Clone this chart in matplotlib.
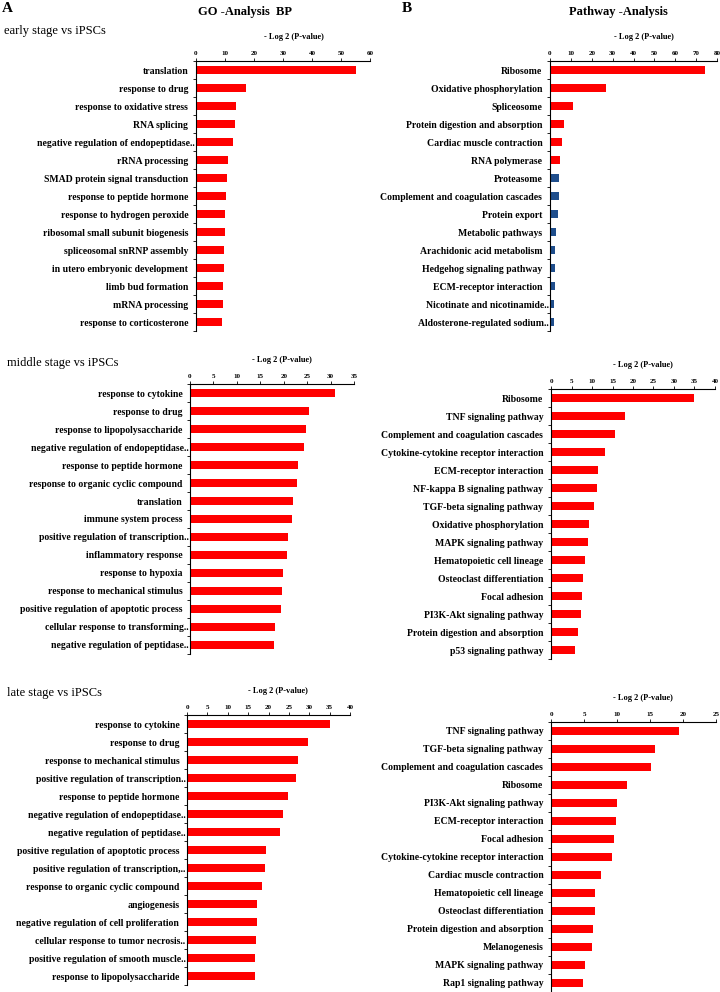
import matplotlib.pyplot as plt
import numpy as np

plt.rcParams['font.family'] = ['Liberation Serif', 'DejaVu Serif']

RED = '#ff0000'
BLUE = '#1f4e8c'

# Early stage vs iPSCs
go_early_terms = ['translation', 'response to drug', 'response to oxidative stress',
                  'RNA splicing', 'negative regulation of endopeptidase..',
                  'rRNA processing', 'SMAD protein signal transduction',
                  'response to peptide hormone', 'response to hydrogen peroxide',
                  'ribosomal small subunit biogenesis', 'spliceosomal snRNP assembly',
                  'in utero embryonic development', 'limb bud formation',
                  'mRNA processing', 'response to corticosterone']
go_early_vals = [55.2, 17.4, 13.8, 13.6, 12.9, 11.0, 10.6, 10.5, 10.1, 10.0,
                 9.8, 9.7, 9.4, 9.4, 9.1]

kegg_early_terms = ['Ribosome', 'Oxidative phosphorylation', 'Spliceosome',
                    'Protein digestion and absorption', 'Cardiac muscle contraction',
                    'RNA polymerase', 'Proteasome',
                    'Complement and coagulation cascades', 'Protein export',
                    'Metabolic pathways', 'Arachidonic acid metabolism',
                    'Hedgehog signaling pathway', 'ECM-receptor interaction',
                    'Nicotinate and nicotinamide..', 'Aldosterone-regulated sodium..']
kegg_early_vals = [74.1, 26.8, 11.2, 6.9, 5.8, 4.8, 4.3, 4.2, 4.0, 2.7, 2.6,
                   2.2, 2.2, 2.1, 2.1]
kegg_early_up = [True] * 6 + [False] * 9

# Middle stage vs iPSCs
go_mid_terms = ['response to cytokine', 'response to drug',
                'response to lipopolysaccharide',
                'negative regulation of endopeptidase..',
                'response to peptide hormone', 'response to organic cyclic compound',
                'translation', 'immune system process',
                'positive regulation of transcription..', 'inflammatory response',
                'response to hypoxia', 'response to mechanical stimulus',
                'positive regulation of apoptotic process',
                'cellular response to transforming..',
                'negative regulation of peptidase..']
go_mid_vals = [30.9, 25.4, 24.8, 24.4, 23.1, 22.8, 22.0, 21.8, 21.0, 20.6,
               19.8, 19.6, 19.5, 18.1, 17.9]

kegg_mid_terms = ['Ribosome', 'TNF signaling pathway',
                  'Complement and coagulation cascades',
                  'Cytokine-cytokine receptor interaction',
                  'ECM-receptor interaction', 'NF-kappa B signaling pathway',
                  'TGF-beta signaling pathway', 'Oxidative phosphorylation',
                  'MAPK signaling pathway', 'Hematopoietic cell lineage',
                  'Osteoclast differentiation', 'Focal adhesion',
                  'PI3K-Akt signaling pathway', 'Protein digestion and absorption',
                  'p53 signaling pathway']
kegg_mid_vals = [34.9, 18.0, 15.7, 13.2, 11.5, 11.3, 10.4, 9.2, 9.0, 8.4,
                 7.8, 7.6, 7.3, 6.7, 5.8]

# Late stage vs iPSCs
go_late_terms = ['response to cytokine', 'response to drug',
                 'response to mechanical stimulus',
                 'positive regulation of transcription..',
                 'response to peptide hormone',
                 'negative regulation of endopeptidase..',
                 'negative regulation of peptidase..',
                 'positive regulation of apoptotic process',
                 'positive regulation of transcription,..',
                 'response to organic cyclic compound', 'angiogenesis',
                 'negative regulation of cell proliferation',
                 'cellular response to tumor necrosis..',
                 'positive regulation of smooth muscle..',
                 'response to lipopolysaccharide']
go_late_vals = [35.0, 29.7, 27.2, 26.8, 24.7, 23.5, 22.8, 19.4, 19.2, 18.4,
                17.3, 17.3, 16.9, 16.7, 16.7]

kegg_late_terms = ['TNF signaling pathway', 'TGF-beta signaling pathway',
                   'Complement and coagulation cascades', 'Ribosome',
                   'PI3K-Akt signaling pathway', 'ECM-receptor interaction',
                   'Focal adhesion', 'Cytokine-cytokine receptor interaction',
                   'Cardiac muscle contraction', 'Hematopoietic cell lineage',
                   'Osteoclast differentiation', 'Protein digestion and absorption',
                   'Melanogenesis', 'MAPK signaling pathway', 'Rap1 signaling pathway']
kegg_late_vals = [19.4, 15.7, 15.2, 11.5, 10.0, 9.8, 9.6, 9.3, 7.5, 6.6,
                  6.6, 6.3, 6.2, 5.2, 4.9]

W, H = 720, 992
fig = plt.figure(figsize=(W / 100, H / 100), dpi=100)


def add_px_axes(x0, y0, x1, y1):
    # pixel box (top-left origin) -> figure fraction
    return fig.add_axes([x0 / W, 1 - y1 / H, (x1 - x0) / W, (y1 - y0) / H])


def bar_panel(box, terms, vals, xmax, step, colors=None):
    ax = add_px_axes(*box)
    y = np.arange(len(terms))
    if colors is None:
        colors = RED
    ax.barh(y, vals, height=0.44, color=colors)
    ax.set_ylim(len(terms) - 0.5, -0.5)
    ax.set_xlim(0, xmax)
    ax.xaxis.tick_top()
    ax.xaxis.set_label_position('top')
    ax.set_xticks(np.arange(0, xmax + 0.1, step))
    ax.tick_params(axis='x', labelsize=5, length=2, width=0.6, pad=1.5)
    for lab in ax.get_xticklabels():
        lab.set_fontweight('bold')
    ax.set_xlabel('- Log 2 (P-value)', fontsize=6, fontweight='bold')
    ax.xaxis.set_label_coords(0.56, 1.0 + 22 / (box[3] - box[1]))
    ax.set_yticks(y)
    ax.set_yticklabels(terms, fontsize=7, fontweight='bold')
    ax.set_yticks(np.arange(len(terms) + 1) - 0.5, minor=True)
    ax.tick_params(axis='y', which='major', length=0)
    ax.tick_params(axis='y', which='minor', length=2.5, width=0.6)
    # truncated labels run right up to the axis
    for tick, term in zip(ax.yaxis.get_major_ticks(), terms):
        tick.set_pad(1 if term.endswith('..') else 5.5)
    for s in ['right', 'bottom']:
        ax.spines[s].set_visible(False)
    ax.spines['top'].set_linewidth(0.8)
    ax.spines['left'].set_linewidth(0.8)
    return ax


bar_panel((196, 61, 370, 331), go_early_terms, go_early_vals, 60, 10)
bar_panel((550, 61, 717, 331), kegg_early_terms, kegg_early_vals, 80, 10,
          colors=[RED if u else BLUE for u in kegg_early_up])
bar_panel((190, 384, 354, 654), go_mid_terms, go_mid_vals, 35, 5)
bar_panel((551, 389, 715, 659), kegg_mid_terms, kegg_mid_vals, 40, 5)
bar_panel((187, 715, 350, 985), go_late_terms, go_late_vals, 40, 5)
bar_panel((551, 722, 716, 992), kegg_late_terms, kegg_late_vals, 25, 5)

fig.text(2 / W, 1 - 8 / H, 'A', fontsize=11, fontweight='bold', va='center')
fig.text(402 / W, 1 - 8 / H, 'B', fontsize=11, fontweight='bold', va='center')
fig.text(245 / W, 1 - 12 / H, 'GO -Analysis  BP', fontsize=9, fontweight='bold',
         ha='center', va='center')
fig.text(618 / W, 1 - 12 / H, 'Pathway -Analysis', fontsize=9, fontweight='bold',
         ha='center', va='center')
fig.text(4 / W, 1 - 31 / H, 'early stage vs iPSCs', fontsize=9, va='center')
fig.text(7 / W, 1 - 363 / H, 'middle stage vs iPSCs', fontsize=9, va='center')
fig.text(7 / W, 1 - 693 / H, 'late stage vs iPSCs', fontsize=9, va='center')

fig.savefig('out.png', dpi=100)
